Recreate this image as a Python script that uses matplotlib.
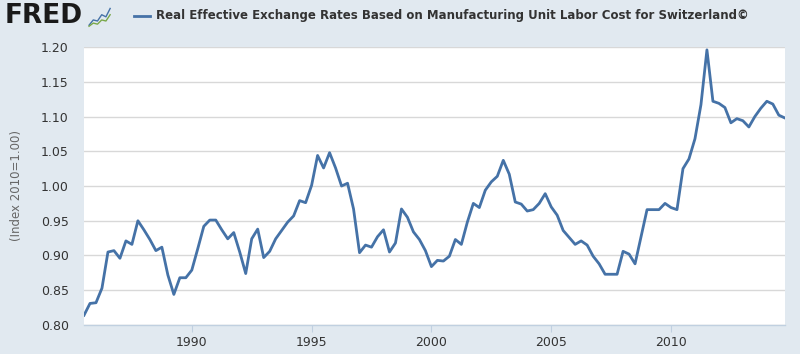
import numpy as np
import matplotlib
matplotlib.use('Agg')
from matplotlib import pyplot as plt

# quarterly index values, 1985 Q3 .. 2014 Q4
start_year = 1985.5
values = [0.814, 0.831, 0.832, 0.853, 0.905, 0.907, 0.896, 0.921, 0.916, 0.950,
          0.937, 0.923, 0.907, 0.912, 0.872, 0.844, 0.868, 0.868, 0.879, 0.910,
          0.942, 0.951, 0.951, 0.937, 0.924, 0.933, 0.905, 0.874, 0.924, 0.938,
          0.897, 0.906, 0.924, 0.936, 0.948, 0.957, 0.979, 0.976, 1.001, 1.044,
          1.026, 1.048, 1.026, 1.000, 1.004, 0.967, 0.904, 0.915, 0.912, 0.927,
          0.937, 0.905, 0.918, 0.967, 0.955, 0.934, 0.923, 0.907, 0.884, 0.893,
          0.892, 0.899, 0.923, 0.916, 0.948, 0.975, 0.969, 0.994, 1.006, 1.014,
          1.037, 1.017, 0.977, 0.974, 0.964, 0.966, 0.975, 0.989, 0.970, 0.958,
          0.936, 0.926, 0.916, 0.921, 0.915, 0.899, 0.888, 0.873, 0.873, 0.873,
          0.906, 0.902, 0.888, 0.927, 0.966, 0.966, 0.966, 0.975, 0.969, 0.966,
          1.025, 1.039, 1.068, 1.117, 1.196, 1.122, 1.119, 1.113, 1.091, 1.097,
          1.094, 1.085, 1.100, 1.112, 1.122, 1.118, 1.102, 1.098]
years = start_year + 0.25 * np.arange(len(values))

x_ticks = [1990, 1995, 2000, 2005, 2010]
y_ticks = [0.80, 0.85, 0.90, 0.95, 1.00, 1.05, 1.10, 1.15, 1.20]

title = 'Real Effective Exchange Rates Based on Manufacturing Unit Labor Cost for Switzerland\u00a9'
y_label = '(Index 2010=1.00)'

# little logo chart next to "FRED"
logo_blue = [0.1, 0.35, 0.3, 0.6, 0.5, 0.9]
logo_green = [0.05, 0.2, 0.15, 0.35, 0.3, 0.6]

bg = '#e1e9f0'
line_color = '#4572a7'
text_color = '#333333'

fig = plt.figure(figsize=(8, 3.54), dpi=100, facecolor=bg)
ax = fig.add_axes([0.105, 0.082, 0.876, 0.785])
ax.set_facecolor('white')

ax.plot(years, values, color=line_color, linewidth=2)

ax.set_xlim(start_year, years[-1])
ax.set_ylim(0.80, 1.20)
ax.set_xticks(x_ticks)
ax.set_yticks(y_ticks)
ax.set_yticklabels([f'{v:.2f}' for v in y_ticks])
ax.grid(axis='y', color='#d8d8d8', linewidth=1)
ax.set_axisbelow(True)

for side in ['top', 'right', 'left']:
    ax.spines[side].set_visible(False)
ax.spines['bottom'].set_color('#c0d0e0')
ax.spines['bottom'].set_linewidth(1)

ax.tick_params(axis='y', length=0, pad=11, labelsize=9, labelcolor=text_color)
ax.tick_params(axis='x', length=5, color='#c0d0e0', pad=3, labelsize=9, labelcolor=text_color)

fig.text(0.021, 0.475, y_label, rotation=90, ha='center', va='center',
         fontsize=8.5, color='#666666')

# header
fig.text(0.006, 0.955, 'FRED', fontsize=19, fontweight='bold', color='#1a1a1a',
         ha='left', va='center')
logo = fig.add_axes([0.110, 0.92, 0.029, 0.065])
logo.set_facecolor('#eef2f5')
logo.plot(np.linspace(0, 1, len(logo_blue)), logo_blue, color='#4572a7', linewidth=1)
logo.plot(np.linspace(0, 1, len(logo_green)), logo_green, color='#7aa84a', linewidth=1)
logo.set_xlim(-0.05, 1.05)
logo.set_ylim(-0.05, 1.05)
logo.axis('off')

fig.add_artist(plt.Line2D([0.168, 0.188], [0.955, 0.955], color=line_color,
                          linewidth=2, transform=fig.transFigure))
fig.text(0.195, 0.955, title, fontsize=8.45, fontweight='bold', color=text_color,
         ha='left', va='center')

fig.savefig('out.png', dpi=100, facecolor=bg)
